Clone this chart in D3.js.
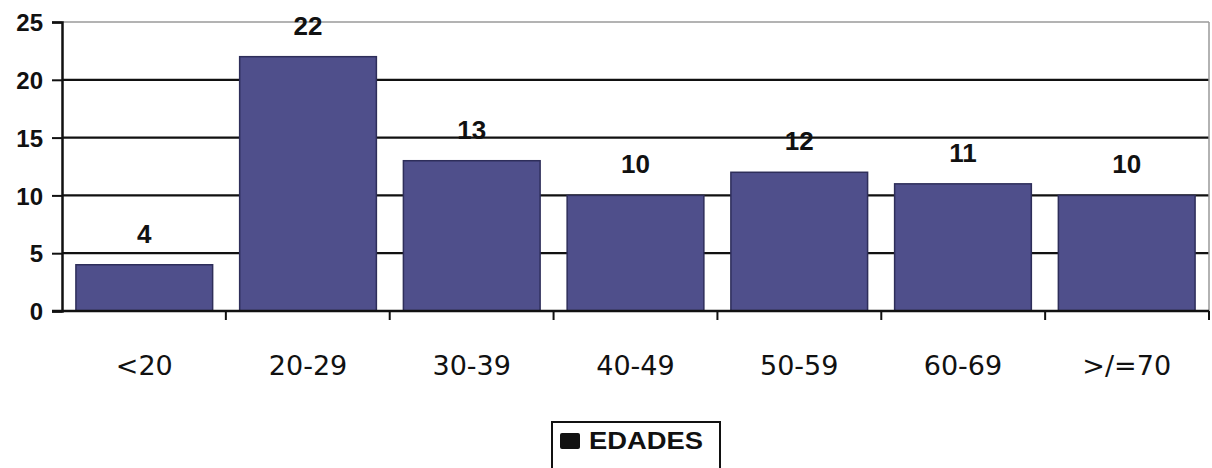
<!DOCTYPE html>
<html>
<head>
<meta charset="utf-8">
<script src="https://cdn.jsdelivr.net/npm/d3@7"></script>
<style>
  html, body { margin: 0; padding: 0; background: #fff; }
  svg { display: block; }
</style>
</head>
<body>
<svg id="chart" width="1212" height="468"></svg>
<script>
// Age groups and counts
const categories = ["<20", "20-29", "30-39", "40-49", "50-59", "60-69", ">/=70"];
const values = [4, 22, 13, 10, 12, 11, 10];
const yTicks = [0, 5, 10, 15, 20, 25];
const seriesName = "EDADES";

const svg = d3.select("#chart");
const plotLeft = 62, plotRight = 1209, plotTop = 22, plotBottom = 311;

const x = d3.scaleBand().domain(categories).range([plotLeft, plotRight]).paddingInner(0.165).paddingOuter(0.085);
const y = d3.scaleLinear().domain([0, 25]).range([plotBottom, plotTop]);

// gridlines
svg.append("g").selectAll("line").data(yTicks.filter(d => d > 0)).join("line")
  .attr("x1", plotLeft).attr("x2", plotRight)
  .attr("y1", d => y(d)).attr("y2", d => y(d))
  .attr("stroke", d => d === 25 ? "#9a9a9a" : "#111")
  .attr("stroke-width", d => d === 25 ? 1.5 : 2.2);

// right border of the plot area
svg.append("line").attr("x1", plotRight).attr("x2", plotRight).attr("y1", plotTop).attr("y2", plotBottom)
  .attr("stroke", "#9a9a9a").attr("stroke-width", 1.5);

// bars
svg.append("g").selectAll("rect").data(values).join("rect")
  .attr("x", (d, i) => x(categories[i]))
  .attr("width", x.bandwidth())
  .attr("y", d => y(d))
  .attr("height", d => y(0) - y(d))
  .attr("fill", "#4f4f8b")
  .attr("stroke", "#2e2e5a").attr("stroke-width", 1.5);

// y axis
const yAxis = svg.append("g").attr("transform", `translate(${plotLeft},0)`)
  .call(d3.axisLeft(y).tickValues(yTicks).tickSize(10).tickPadding(9));
yAxis.select(".domain").attr("stroke", "#111").attr("stroke-width", 2.5);
yAxis.selectAll(".tick line").attr("stroke", "#111").attr("stroke-width", 2);
yAxis.selectAll(".tick text")
  .attr("font-family", "Liberation Sans, Arial, sans-serif")
  .attr("font-weight", "bold").attr("font-size", 24).attr("fill", "#111")
  .attr("dy", "0.36em");

// x axis with ticks at category boundaries
const xAxisG = svg.append("g").attr("transform", `translate(0,${plotBottom})`);
xAxisG.append("line").attr("x1", plotLeft - 10).attr("x2", plotRight).attr("y1", 0).attr("y2", 0)
  .attr("stroke", "#111").attr("stroke-width", 2.5);
const boundaries = categories.map((c, i) => plotLeft + (i + 1) * (plotRight - plotLeft) / categories.length);
xAxisG.selectAll("line.tk").data(boundaries).join("line").attr("class", "tk")
  .attr("x1", d => d).attr("x2", d => d).attr("y1", 0).attr("y2", 9)
  .attr("stroke", "#111").attr("stroke-width", 2);
xAxisG.selectAll("text").data(categories).join("text")
  .attr("x", d => x(d) + x.bandwidth() / 2)
  .attr("y", 64)
  .attr("text-anchor", "middle")
  .attr("font-family", "DejaVu Sans, Verdana, sans-serif")
  .attr("font-size", 27).attr("fill", "#111")
  .text(d => d);

// value labels
svg.append("g").selectAll("text").data(values).join("text")
  .attr("x", (d, i) => x(categories[i]) + x.bandwidth() / 2)
  .attr("y", d => y(d) - 22)
  .attr("text-anchor", "middle")
  .attr("font-family", "Liberation Sans, Arial, sans-serif")
  .attr("font-weight", "bold").attr("font-size", 26).attr("fill", "#111")
  .text(d => d);

// legend
const lg = svg.append("g").attr("transform", "translate(552,422)");
lg.append("rect").attr("x", 0).attr("y", 0).attr("width", 168).attr("height", 60)
  .attr("fill", "#fff").attr("stroke", "#111").attr("stroke-width", 2);
lg.append("rect").attr("x", 8).attr("y", 11).attr("width", 20).attr("height", 16)
  .attr("rx", 2).attr("fill", "#111");
lg.append("text").attr("x", 37).attr("y", 27)
  .attr("font-family", "Liberation Sans, Arial, sans-serif")
  .attr("font-weight", "bold").attr("font-size", 23).attr("fill", "#111")
  .attr("textLength", 114).attr("lengthAdjust", "spacingAndGlyphs")
  .text(seriesName);
</script>
</body>
</html>
